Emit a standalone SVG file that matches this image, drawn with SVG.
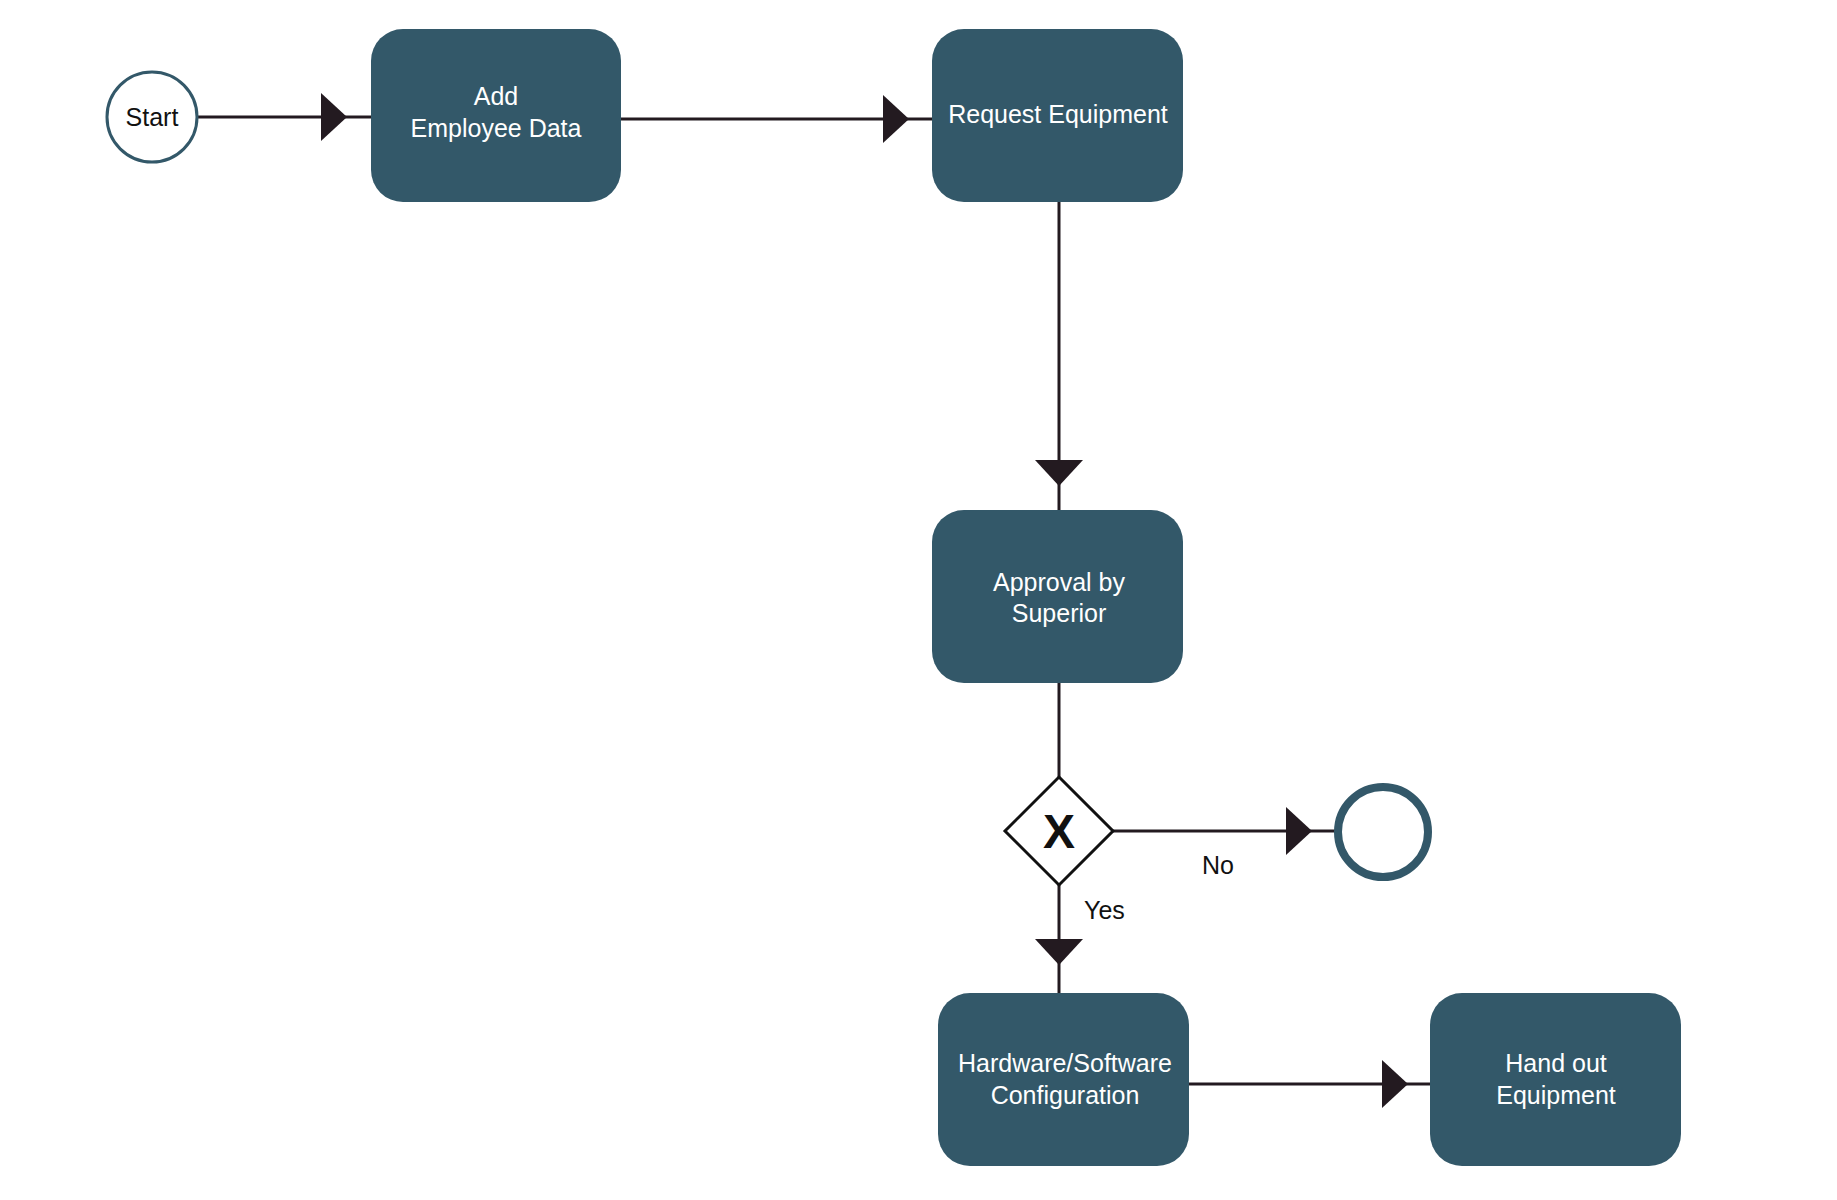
<svg xmlns="http://www.w3.org/2000/svg" width="1837" height="1200" viewBox="0 0 1837 1200">
<style>
.box{fill:#335869}
.t{font-family:"Helvetica","Liberation Sans",Arial,sans-serif;font-size:25px;fill:#fff;text-anchor:middle}
.l{font-family:"Liberation Sans",Arial,sans-serif;font-size:25px;fill:#111}
.c{stroke:#231a20;stroke-width:3;fill:none}
</style>
<defs><marker id="a" viewBox="0 0 26 48" refX="26" refY="24" markerWidth="26" markerHeight="48" markerUnits="userSpaceOnUse" orient="auto"><path d="M0,0L26,24L0,48Z" fill="#231a20"/></marker></defs>
<rect width="1837" height="1200" fill="#fff"/>
<g id="connectors">
<path class="c" d="M197,117H347" marker-end="url(#a)"/><path class="c" d="M347,117H371"/>
<path class="c" d="M621,119H909" marker-end="url(#a)"/><path class="c" d="M909,119H932"/>
<path class="c" d="M1059,202V486" marker-end="url(#a)"/><path class="c" d="M1059,486V510"/>
<path class="c" d="M1059,683V777"/>
<path class="c" d="M1113,831H1312" marker-end="url(#a)"/><path class="c" d="M1312,831H1336"/>
<path class="c" d="M1059,885V965" marker-end="url(#a)"/><path class="c" d="M1059,965V993"/>
<path class="c" d="M1189,1084H1408" marker-end="url(#a)"/><path class="c" d="M1408,1084H1430"/>
<text class="l" x="1202" y="874">No</text>
<text class="l" x="1084" y="919">Yes</text>
</g>
<g id="start"><circle cx="152" cy="117" r="45" fill="#fff" stroke="#335869" stroke-width="3"/><text class="t" x="152" y="126" style="fill:#111">Start</text></g>
<g id="add"><rect class="box" x="371" y="29" width="250" height="173" rx="32"/><text class="t" x="496" y="105">Add</text><text class="t" x="496" y="137">Employee Data</text></g>
<g id="request"><rect class="box" x="932" y="29" width="251" height="173" rx="32"/><text class="t" x="1058" y="123">Request Equipment</text></g>
<g id="approval"><rect class="box" x="932" y="510" width="251" height="173" rx="32"/><text class="t" x="1059" y="591">Approval by</text><text class="t" x="1059" y="622">Superior</text></g>
<g id="gateway"><path d="M1059,777L1113,831L1059,885L1005,831Z" fill="#fff" stroke="#111" stroke-width="3"/><text x="1059" y="848" text-anchor="middle" style="font-family:'Liberation Sans',Arial,sans-serif;font-size:48px;font-weight:bold;fill:#111">X</text></g>
<g id="end"><circle cx="1383" cy="832" r="45" fill="#fff" stroke="#335869" stroke-width="8"/></g>
<g id="hw"><rect class="box" x="938" y="993" width="251" height="173" rx="32"/><text class="t" x="1065" y="1072">Hardware/Software</text><text class="t" x="1065" y="1104">Configuration</text></g>
<g id="handout"><rect class="box" x="1430" y="993" width="251" height="173" rx="32"/><text class="t" x="1556" y="1072">Hand out</text><text class="t" x="1556" y="1104">Equipment</text></g>
</svg>
